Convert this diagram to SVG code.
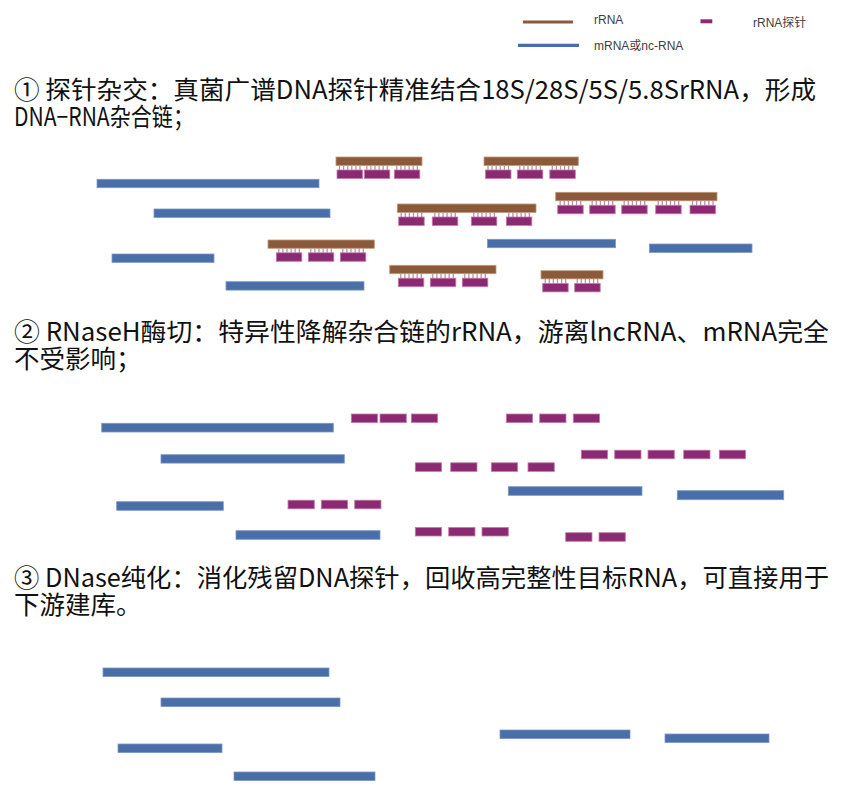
<svg xmlns="http://www.w3.org/2000/svg" xmlns:xlink="http://www.w3.org/1999/xlink" width="841" height="800" viewBox="0 0 841 800">
<style>
.bg{fill:#ffffff}
.m{fill:#4a6ea8;stroke:#7a98c8;stroke-width:0.8}
.r{fill:#8b5a3a;stroke:#c49a78;stroke-width:0.8}
.p{fill:#8b2a72;stroke:#c77aaa;stroke-width:0.8}
.tk{stroke:#b594a8;stroke-width:1.3}
.t{font-family:"Noto Sans CJK SC","Liberation Sans",sans-serif;font-size:25.5px;fill:#111111}
.lg{font-family:"Liberation Sans","Noto Sans CJK SC",sans-serif;font-size:12px;fill:#404040}
</style>
<defs>
<g id="unit">
<line class="tk" x1="2.5" y1="0" x2="2.5" y2="4.5"/>
<line class="tk" x1="6.6" y1="0" x2="6.6" y2="4.5"/>
<line class="tk" x1="10.7" y1="0" x2="10.7" y2="4.5"/>
<line class="tk" x1="14.8" y1="0" x2="14.8" y2="4.5"/>
<line class="tk" x1="18.9" y1="0" x2="18.9" y2="4.5"/>
<line class="tk" x1="23" y1="0" x2="23" y2="4.5"/>
<rect class="p" x="0" y="4.5" width="25.5" height="8.5"/>
</g>
<rect id="pr" class="p" x="0" y="0" width="26.3" height="8.6"/>
</defs>
<rect class="bg" x="0" y="0" width="841" height="800"/>

<g id="legend">
<line x1="523" y1="22" x2="573" y2="22" stroke="#8b5a3a" stroke-width="3.2"/>
<text class="lg" x="594" y="24">rRNA</text>
<rect x="700.5" y="19.3" width="11.8" height="4" fill="#8b2a72"/>
<text class="lg" x="753" y="27">rRNA探针</text>
<line x1="518" y1="45.3" x2="579" y2="45.3" stroke="#4a6ea8" stroke-width="3.2"/>
<text class="lg" x="594" y="50">mRNA或nc-RNA</text>
</g>

<g id="text1">
<text class="t" x="14" y="99" textLength="802" lengthAdjust="spacingAndGlyphs">① 探针杂交：真菌广谱DNA探针精准结合18S/28S/5S/5.8SrRNA，形成</text>
<text class="t" x="14" y="126" textLength="180" lengthAdjust="spacingAndGlyphs">DNA−RNA杂合链；</text>
</g>

<g id="step1">
<g id="s1-m1"><rect class="m" x="97" y="179.3" width="222" height="8.4"/></g>
<g id="s1-m2"><rect class="m" x="154" y="209" width="176" height="8.4"/></g>
<g id="s1-m3"><rect class="m" x="112" y="254" width="102" height="8.4"/></g>
<g id="s1-m4"><rect class="m" x="226" y="281.7" width="138" height="8.4"/></g>
<g id="s1-m5"><rect class="m" x="487.5" y="239.3" width="128" height="8.4"/></g>
<g id="s1-m6"><rect class="m" x="649.5" y="244" width="102.5" height="8.4"/></g>

<g id="s1-h1"><rect class="r" x="336" y="157" width="86" height="8.5"/>
<use xlink:href="#unit" x="337" y="165.5"/><use xlink:href="#unit" x="364.3" y="165.5"/><use xlink:href="#unit" x="394.3" y="165.5"/></g>
<g id="s1-h2"><rect class="r" x="484" y="157" width="94.3" height="8.5"/>
<use xlink:href="#unit" x="485.5" y="165.5"/><use xlink:href="#unit" x="517.3" y="165.5"/><use xlink:href="#unit" x="549.8" y="165.5"/></g>
<g id="s1-h3"><rect class="r" x="397.3" y="204" width="138.7" height="8.5"/>
<use xlink:href="#unit" x="398.7" y="212.5"/><use xlink:href="#unit" x="432.3" y="212.5"/><use xlink:href="#unit" x="471.3" y="212.5"/><use xlink:href="#unit" x="506.3" y="212.5"/></g>
<g id="s1-h4"><rect class="r" x="555.7" y="192.3" width="161.3" height="8.5"/>
<use xlink:href="#unit" x="557.7" y="200.8"/><use xlink:href="#unit" x="589.7" y="200.8"/><use xlink:href="#unit" x="621.7" y="200.8"/><use xlink:href="#unit" x="655.7" y="200.8"/><use xlink:href="#unit" x="690" y="200.8"/></g>
<g id="s1-h5"><rect class="r" x="268" y="240" width="106.3" height="8.3"/>
<use xlink:href="#unit" x="276.3" y="248.3"/><use xlink:href="#unit" x="308.3" y="248.3"/><use xlink:href="#unit" x="340.3" y="248.3"/></g>
<g id="s1-h6"><rect class="r" x="389.7" y="265.3" width="106.3" height="8.4"/>
<use xlink:href="#unit" x="398.3" y="273.7"/><use xlink:href="#unit" x="430.3" y="273.7"/><use xlink:href="#unit" x="462.3" y="273.7"/></g>
<g id="s1-h7"><rect class="r" x="541" y="270.7" width="62" height="8.2"/>
<use xlink:href="#unit" x="542.7" y="278.9"/><use xlink:href="#unit" x="574.7" y="278.9"/></g>
</g>

<g id="text2">
<text class="t" x="14" y="341" textLength="815" lengthAdjust="spacingAndGlyphs">② RNaseH酶切：特异性降解杂合链的rRNA，游离lncRNA、mRNA完全</text>
<text class="t" x="14" y="368">不受影响；</text>
</g>

<g id="step2">
<g id="s2-m1"><rect class="m" x="101.7" y="423.3" width="231.6" height="8.7"/></g>
<g id="s2-m2"><rect class="m" x="161" y="454.7" width="183.3" height="8.4"/></g>
<g id="s2-m3"><rect class="m" x="116.7" y="501.7" width="106.6" height="8.6"/></g>
<g id="s2-m4"><rect class="m" x="236" y="530.7" width="144" height="8.6"/></g>
<g id="s2-m5"><rect class="m" x="508.3" y="486.7" width="133.7" height="8.6"/></g>
<g id="s2-m6"><rect class="m" x="677.3" y="490.7" width="106.4" height="9"/></g>
<g id="s2-pA"><use xlink:href="#pr" x="351.3" y="414"/><use xlink:href="#pr" x="380" y="414"/><use xlink:href="#pr" x="411.3" y="414"/></g>
<g id="s2-pB"><use xlink:href="#pr" x="506.3" y="414"/><use xlink:href="#pr" x="539.7" y="414"/><use xlink:href="#pr" x="573.3" y="414"/></g>
<g id="s2-pC"><use xlink:href="#pr" x="415.3" y="462.8"/><use xlink:href="#pr" x="450.7" y="462.8"/><use xlink:href="#pr" x="491.3" y="462.8"/><use xlink:href="#pr" x="528" y="462.8"/></g>
<g id="s2-pD"><use xlink:href="#pr" x="581.3" y="450.2"/><use xlink:href="#pr" x="614.7" y="450.2"/><use xlink:href="#pr" x="648" y="450.2"/><use xlink:href="#pr" x="683.7" y="450.2"/><use xlink:href="#pr" x="719.3" y="450.2"/></g>
<g id="s2-pE"><use xlink:href="#pr" x="288" y="500.2"/><use xlink:href="#pr" x="321.3" y="500.2"/><use xlink:href="#pr" x="354.7" y="500.2"/></g>
<g id="s2-pF"><use xlink:href="#pr" x="415.3" y="527.4"/><use xlink:href="#pr" x="448.7" y="527.4"/><use xlink:href="#pr" x="482" y="527.4"/></g>
<g id="s2-pG"><use xlink:href="#pr" x="565.7" y="532.7"/><use xlink:href="#pr" x="599" y="532.7"/></g>
</g>

<g id="text3">
<text class="t" x="14" y="587" textLength="815" lengthAdjust="spacingAndGlyphs">③ DNase纯化：消化残留DNA探针，回收高完整性目标RNA，可直接用于</text>
<text class="t" x="14" y="614">下游建库。</text>
</g>

<g id="step3">
<g id="s3-m1"><rect class="m" x="103" y="668" width="226" height="8.6"/></g>
<g id="s3-m2"><rect class="m" x="161" y="698" width="179" height="8.6"/></g>
<g id="s3-m3"><rect class="m" x="118" y="744" width="104" height="8.6"/></g>
<g id="s3-m4"><rect class="m" x="234" y="772" width="141" height="8.6"/></g>
<g id="s3-m5"><rect class="m" x="500" y="730" width="130" height="8.6"/></g>
<g id="s3-m6"><rect class="m" x="665" y="734" width="104" height="8.6"/></g>
</g>
</svg>
